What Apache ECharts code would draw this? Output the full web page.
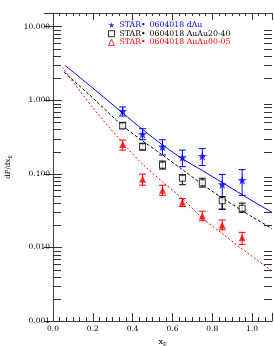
<!DOCTYPE html>
<html><head><meta charset="utf-8">
<script src="https://cdn.jsdelivr.net/npm/echarts@6/dist/echarts.min.js"></script>
<style>html,body{margin:0;padding:0;background:#fff}#c{width:274px;height:346px}</style>
</head><body><div id="c"></div>
<script>
// ---- data ----
var xE = [0.35, 0.45, 0.55, 0.65, 0.75, 0.85, 0.95];
var dAu = [0.71, 0.346, 0.233, 0.167, 0.174, 0.072, 0.082];
var dAuLo = [0.61, 0.29, 0.18, 0.125, 0.13, 0.033, 0.051];
var dAuHi = [0.81, 0.41, 0.29, 0.21, 0.22, 0.098, 0.114];
var au2040 = [0.448, 0.233, 0.131, 0.087, 0.0755, 0.043, 0.034];
var au2040Lo = [0.41, 0.21, 0.116, 0.071, 0.066, 0.033, 0.030];
var au2040Hi = [0.50, 0.26, 0.149, 0.097, 0.087, 0.049, 0.040];
var au0005 = [0.25, 0.084, 0.060, 0.041, 0.0267, 0.020, 0.0135];
var au0005Lo = [0.21, 0.070, 0.051, 0.036, 0.023, 0.0173, 0.011];
var au0005Hi = [0.287, 0.099, 0.070, 0.046, 0.031, 0.0236, 0.016];

var curveXdAu = [0.06, 0.2, 0.35, 0.45, 0.55, 0.65, 0.75, 0.85, 0.95, 1.0, 1.1];
var curveDAu = [2.98, 1.46, 0.67, 0.40, 0.247, 0.16, 0.111, 0.076, 0.052, 0.043, 0.030];
var curveX2040 = [0.055, 0.2, 0.35, 0.45, 0.55, 0.65, 0.75, 0.85, 0.95, 1.0, 1.1];
var curve2040 = [2.42, 1.07, 0.45, 0.28, 0.18, 0.114, 0.072, 0.047, 0.0316, 0.026, 0.018];
var curveX0005 = [0.045, 0.2, 0.35, 0.45, 0.55, 0.65, 0.75, 0.85, 0.95, 1.1];
var curve0005 = [2.83, 0.79, 0.264, 0.135, 0.078, 0.046, 0.025, 0.0154, 0.0095, 0.0048];

var seriesNames = ['0604018 dAu', '0604018 AuAu20-40', '0604018 AuAu00-05'];
var legendPrefix = 'STAR\u2022';
var yDecades = [0.001, 0.01, 0.1, 1, 10];
var minorMults = [2, 3, 4, 5, 6, 7, 8, 9];

// ---- helpers ----
var X_MIN = 0, X_MAX = 1.1, Y_MIN = 0.001, Y_MAX = 15.3;
var FONT = 'DejaVu Serif';
var STAR = 'path://M0,-10L2.35,-3.24L9.51,-3.09L3.8,1.24L5.88,8.09L0,4L-5.88,8.09L-3.8,1.24L-9.51,-3.09L-2.35,-3.24Z';
function pts(xs, ys) { return xs.map(function (x, i) { return [x, ys[i]]; }); }
function errs(xs, lo, hi) { return xs.map(function (x, i) { return [x, lo[i], hi[i]]; }); }
var yMinor = [];
yDecades.forEach(function (d) { minorMults.forEach(function (m) { var v = d * m; if (v < Y_MAX) yMinor.push([X_MIN, +v.toPrecision(3)]); }); });

function errRender(color) {
  return function (params, api) {
    var x = api.value(0);
    var a = api.coord([x, api.value(1)]);
    var b = api.coord([x, api.value(2)]);
    var w = 3.5;
    var st = { stroke: color, lineWidth: 1 };
    return { type: 'group', children: [
      { type: 'line', shape: { x1: a[0], y1: a[1], x2: b[0], y2: b[1] }, style: st },
      { type: 'line', shape: { x1: a[0] - w, y1: a[1], x2: a[0] + w, y2: a[1] }, style: st },
      { type: 'line', shape: { x1: b[0] - w, y1: b[1], x2: b[0] + w, y2: b[1] }, style: st }
    ] };
  };
}
function minorRender(params, api) {
  var v = api.value(1);
  var l = api.coord([X_MIN, v]);
  var r = api.coord([X_MAX, v]);
  var len = 8;
  var st = { stroke: '#333', lineWidth: 1 };
  return { type: 'group', children: [
    { type: 'line', shape: { x1: l[0], y1: Math.round(l[1]) + 0.5, x2: l[0] + len, y2: Math.round(l[1]) + 0.5 }, style: st },
    { type: 'line', shape: { x1: r[0] - len, y1: Math.round(r[1]) + 0.5, x2: r[0], y2: Math.round(r[1]) + 0.5 }, style: st }
  ] };
}

var axisLineStyle = { color: '#444', width: 1 };
var labelStyle = { fontFamily: FONT, fontSize: 7.5, color: '#000' };
var legendRich = { a: { width: 30, fontFamily: FONT, fontSize: 7.8, lineHeight: 10 }, b: { fontFamily: FONT, fontSize: 7.8, lineHeight: 10 } };

var chart = echarts.init(document.getElementById('c'), null, { renderer: 'canvas' });
chart.setOption({
  animation: false,
  backgroundColor: '#fff',
  grid: { left: 53, right: 2, top: 13, bottom: 25, containLabel: false, outerBoundsMode: 'none' },
  legend: {
    orient: 'vertical', left: 108, top: 20, itemGap: -1.3, itemWidth: 6, itemHeight: 6,
    padding: 0, selectedMode: false,
    textStyle: { fontFamily: FONT, fontSize: 7.8, lineHeight: 10, rich: legendRich },
    formatter: function (n) { return '{a|' + legendPrefix + '}{b|' + n + '}'; },
    data: [
      { name: seriesNames[0], icon: STAR, textStyle: { color: '#0000ff' } },
      { name: seriesNames[1], icon: 'rect', itemStyle: { color: '#fff', borderColor: '#000', borderWidth: 1 }, textStyle: { color: '#000' } },
      { name: seriesNames[2], icon: 'triangle', itemStyle: { color: '#fff', borderColor: '#ff0000', borderWidth: 1 }, textStyle: { color: '#ff0000' } }
    ]
  },
  xAxis: [
    { type: 'value', min: X_MIN, max: X_MAX, interval: 0.2, position: 'bottom',
      name: 'x{s|E}', nameLocation: 'middle', nameGap: 14,
      nameTextStyle: { fontFamily: FONT, fontSize: 8, color: '#000', rich: { s: { fontFamily: FONT, fontSize: 5, padding: [5, 0, 0, 0] } } },
      axisLine: { lineStyle: axisLineStyle },
      axisTick: { inside: true, length: 8, lineStyle: { color: '#333' } },
      minorTick: { show: true, splitNumber: 6, length: 4, lineStyle: { color: '#333' } },
      splitLine: { show: false },
      axisLabel: Object.assign({ margin: 4, showMaxLabel: false, formatter: function (v) { return (Math.abs(v / 0.2 - Math.round(v / 0.2)) < 1e-6) ? v.toFixed(1) : ''; } }, labelStyle) },
    { type: 'value', min: X_MIN, max: X_MAX, interval: 0.2, position: 'top',
      axisLine: { lineStyle: axisLineStyle },
      axisTick: { inside: true, length: 7, lineStyle: { color: '#333' } },
      minorTick: { show: true, splitNumber: 6, length: 3, lineStyle: { color: '#333' } },
      splitLine: { show: false }, axisLabel: { show: false } }
  ],
  yAxis: [
    { type: 'log', min: Y_MIN, max: Y_MAX, position: 'left',
      name: 'dP/dx{s|E}', nameLocation: 'middle', nameGap: 38, nameRotate: 90,
      nameTextStyle: { fontFamily: FONT, fontSize: 7, color: '#000', rich: { s: { fontFamily: FONT, fontSize: 5, padding: [4, 0, 0, 0] } } },
      axisLine: { lineStyle: axisLineStyle },
      axisTick: { inside: true, length: 9, lineStyle: { color: '#333' } },
      splitLine: { show: false },
      axisLabel: Object.assign({ margin: 3, formatter: function (v) {
        var l = Math.log10(v); return Math.abs(l - Math.round(l)) < 1e-6 ? v.toFixed(3) : ''; } }, labelStyle) },
    { type: 'log', min: Y_MIN, max: Y_MAX, position: 'right',
      axisLine: { lineStyle: axisLineStyle },
      axisTick: { inside: true, length: 9, lineStyle: { color: '#333' } },
      splitLine: { show: false }, axisLabel: { show: false } }
  ],
  series: [
    { name: 'curve dAu', type: 'line', data: pts(curveXdAu, curveDAu), showSymbol: false, smooth: 0.3,
      lineStyle: { color: '#0000ff', width: 1 }, z: 2 },
    { name: 'curve 2040', type: 'line', data: pts(curveX2040, curve2040), showSymbol: false, smooth: 0.3,
      lineStyle: { color: '#000', width: 1, type: [3, 2] }, z: 2 },
    { name: 'curve 0005', type: 'line', data: pts(curveX0005, curve0005), showSymbol: false, smooth: 0.3,
      lineStyle: { color: '#ff0000', width: 1, type: [2, 2] }, z: 2 },
    { name: 'err dAu', type: 'custom', data: errs(xE, dAuLo, dAuHi), renderItem: errRender('#0000ff'), z: 3 },
    { name: 'err 2040', type: 'custom', data: errs(xE, au2040Lo, au2040Hi), renderItem: errRender('#000'), z: 3 },
    { name: 'err 0005', type: 'custom', data: errs(xE, au0005Lo, au0005Hi), renderItem: errRender('#ff0000'), z: 3 },
    { name: seriesNames[0], type: 'scatter', data: pts(xE, dAu), symbol: STAR, symbolSize: 9,
      itemStyle: { color: '#0000ff' }, z: 4 },
    { name: seriesNames[1], type: 'scatter', data: pts(xE, au2040), symbol: 'rect', symbolSize: 6,
      itemStyle: { color: '#fff', borderColor: '#000', borderWidth: 1 }, z: 4 },
    { name: seriesNames[2], type: 'scatter', data: pts(xE, au0005), symbol: 'triangle', symbolSize: 7,
      itemStyle: { color: '#ff0000' }, z: 4 },
    { name: 'minor ticks', type: 'custom', data: yMinor, renderItem: minorRender, clip: false, z: 5, silent: true }
  ]
});
</script></body></html>
